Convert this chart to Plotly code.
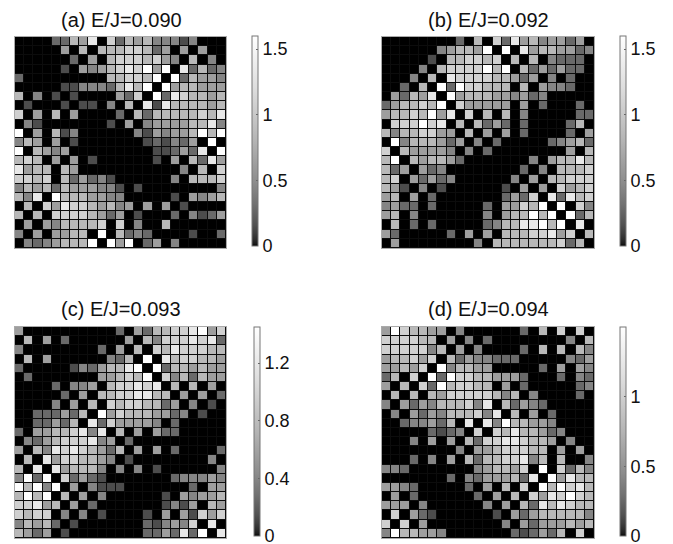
import plotly.graph_objects as go

# The page has an 8 px body margin, so figure coordinates are offset by it.
PAGE_W, PAGE_H, OFF = 673, 544, 8
W, H = PAGE_W - OFF, PAGE_H - OFF

rows_a = [
[0,0,0,0,3,3,6,5,8,0,7,3,6,5,6,4,4,4,2,4,0,0,0],
[0,0,0,0,0,5,0,6,0,6,6,6,7,7,6,3,5,0,5,0,5,0,0],
[0,0,0,0,0,0,3,0,5,0,6,7,7,7,6,7,5,4,0,6,0,4,0],
[0,0,0,0,0,2,0,5,4,5,6,7,8,7,9,5,9,0,8,3,6,3,4],
[3,0,0,0,0,0,0,0,0,0,6,6,7,7,6,9,0,9,3,6,5,5,4],
[0,0,0,0,0,2,2,4,4,4,3,6,8,6,9,0,9,5,6,6,5,5,5],
[6,0,4,0,2,0,2,0,0,0,0,5,3,7,0,9,3,8,7,6,6,5,6],
[0,2,0,0,0,2,0,2,2,0,4,0,6,0,8,2,8,6,6,6,6,5,6],
[7,0,5,0,6,0,5,0,0,0,0,3,0,6,3,6,6,6,6,6,7,6,8],
[0,4,2,0,0,0,0,0,0,0,2,0,5,0,4,5,5,5,5,6,6,8,4],
[9,0,5,0,6,2,4,0,0,0,0,0,0,4,2,5,4,5,5,6,9,6,9],
[4,6,5,0,5,0,2,0,0,0,0,0,0,0,2,3,2,4,3,5,0,9,0],
[9,0,6,5,4,5,0,0,0,0,0,0,0,0,0,2,2,3,5,3,8,0,9],
[6,7,6,0,5,0,5,0,2,0,0,0,0,0,0,2,0,5,0,6,3,8,5],
[8,5,6,6,0,6,5,0,0,0,0,0,0,0,0,0,0,0,4,0,6,0,7],
[7,7,6,7,0,6,3,5,3,4,2,0,0,0,0,0,0,4,0,6,6,6,7],
[4,6,5,6,3,6,5,5,5,4,4,2,0,2,0,0,0,0,0,0,0,0,4],
[6,4,8,0,9,6,6,6,5,5,4,4,0,0,0,0,0,2,0,5,4,5,6],
[0,6,0,7,5,8,7,7,6,5,6,4,5,0,5,0,5,0,2,0,0,0,0],
[6,0,6,0,7,7,7,7,6,5,3,5,0,2,0,0,0,3,0,4,2,3,5],
[0,5,0,5,4,6,6,6,6,7,0,7,0,4,0,0,6,0,0,0,0,0,0],
[4,0,5,0,5,5,6,6,0,9,0,6,3,4,3,0,0,0,0,2,0,0,3],
[0,4,3,4,5,6,6,6,9,0,9,5,9,0,3,5,0,4,0,0,0,0,0],
]
rows_b = [
[0,0,0,0,0,0,0,0,3,0,6,0,7,3,8,5,6,4,5,5,3,5,0],
[0,0,0,0,0,0,4,5,6,6,5,9,0,9,0,8,5,6,6,5,5,3,4],
[0,0,0,0,0,2,0,6,6,7,7,6,7,0,6,0,6,0,4,3,3,3,0],
[0,0,0,0,4,0,6,7,7,7,7,9,6,9,0,6,3,5,3,5,3,3,0],
[0,0,0,4,0,6,0,8,7,7,7,7,6,6,5,3,5,0,4,0,3,0,0],
[0,0,3,0,6,0,9,3,9,7,7,6,6,6,0,6,0,5,4,4,3,0,0],
[0,5,3,6,5,8,0,9,5,6,6,6,5,5,4,5,3,4,0,0,0,0,0],
[3,5,6,6,7,6,9,0,7,5,5,5,5,5,0,5,0,3,0,0,0,3,0],
[5,6,6,7,6,9,5,8,0,7,0,6,0,6,0,4,0,0,0,0,0,3,3],
[0,7,7,7,9,7,8,0,6,0,6,3,5,3,0,3,0,0,0,0,3,6,0],
[6,4,6,6,7,7,5,5,0,6,0,5,0,5,0,3,0,0,0,0,3,0,5],
[0,9,4,6,6,6,5,3,5,0,4,0,3,0,0,0,0,0,3,4,5,6,3],
[7,0,6,5,5,5,5,4,0,4,0,3,0,0,0,0,0,0,0,0,5,0,6],
[6,9,0,6,5,6,6,5,3,0,0,0,0,0,0,0,4,0,5,6,6,8,6],
[6,3,5,0,5,3,4,0,0,0,0,0,0,0,0,3,0,4,0,6,6,6,7],
[6,7,0,5,3,5,3,4,0,0,0,0,0,0,4,0,5,0,6,6,7,7,7],
[6,5,2,0,4,0,2,0,0,0,0,0,0,2,0,5,0,5,0,7,5,6,7],
[5,6,0,5,0,3,0,0,0,0,0,0,0,3,5,3,7,0,8,3,8,6,7],
[4,5,3,3,0,3,0,0,0,0,0,3,0,5,5,7,6,9,0,9,0,7,4],
[5,6,0,4,0,0,0,0,0,0,0,4,0,5,6,6,9,6,9,0,9,3,6],
[0,6,0,3,0,3,0,0,0,0,0,3,4,6,6,8,8,9,6,9,0,8,0],
[5,3,0,0,0,0,0,3,0,5,0,5,0,6,6,6,7,7,8,5,7,0,6],
[0,5,0,0,0,0,0,0,0,0,4,0,6,6,6,6,6,6,6,7,3,6,0],
]
rows_c = [
[5,0,0,0,0,0,0,0,0,0,0,3,0,5,3,6,6,7,7,8,9,5,7],
[0,6,0,5,0,3,0,0,0,0,0,0,5,0,6,4,7,7,7,8,7,8,3],
[4,0,0,0,0,0,0,0,0,3,0,5,0,6,0,7,6,8,7,7,7,6,6],
[0,6,0,5,0,0,0,0,0,0,4,3,6,0,9,0,8,6,7,7,6,6,5],
[3,0,0,0,0,0,2,4,3,5,6,6,8,9,0,9,3,6,6,5,6,5,5],
[0,3,0,0,0,0,0,0,0,5,5,6,7,6,9,0,7,4,6,3,6,5,5],
[0,0,0,0,3,0,4,4,5,0,6,7,7,8,7,8,0,6,0,6,0,5,0],
[0,0,0,0,0,3,0,5,0,6,6,7,7,8,8,6,6,0,5,0,5,0,3],
[0,0,0,0,4,0,5,0,6,0,7,6,7,7,6,6,3,5,0,4,0,2,0],
[0,0,3,3,3,5,3,6,0,9,5,7,6,6,6,5,5,3,4,0,2,0,0],
[0,0,3,3,5,3,6,0,8,3,7,5,5,5,5,4,0,3,0,0,0,0,0],
[3,0,5,5,6,6,7,8,4,8,0,6,0,5,0,5,3,3,0,0,0,0,0],
[0,4,3,5,6,7,7,7,8,4,5,0,3,0,0,0,0,0,0,0,0,0,0],
[5,0,6,4,8,7,8,7,6,5,3,6,0,5,0,5,0,3,0,0,0,0,3],
[0,6,0,8,5,7,7,6,6,5,4,0,2,0,0,0,0,0,0,0,0,4,0],
[6,0,8,0,8,5,6,6,6,4,0,4,0,4,0,2,0,0,0,0,0,0,4],
[4,9,3,9,0,7,3,5,3,2,0,0,0,0,0,0,0,3,4,4,4,5,4],
[9,6,9,4,9,0,5,0,4,2,2,2,0,0,0,0,0,0,0,3,0,5,5],
[6,9,6,9,0,6,0,5,0,4,0,0,0,0,0,0,2,0,5,4,5,5,6],
[7,7,8,5,6,0,5,0,3,0,0,0,0,0,0,0,2,4,2,5,0,6,5],
[7,6,7,7,0,4,0,4,0,2,0,0,0,0,2,0,5,0,5,2,7,5,7],
[4,6,5,6,3,0,2,0,0,0,0,0,0,0,3,2,4,5,4,7,0,8,0],
[6,5,3,5,0,2,0,0,0,0,0,0,0,0,3,3,5,3,8,3,9,0,8],
]
rows_d = [
[5,9,7,6,6,5,5,0,4,0,0,0,0,0,0,3,0,6,0,7,0,7,0],
[7,7,7,7,6,6,0,5,0,4,0,3,0,0,0,0,0,0,0,0,4,0,6],
[7,7,7,7,7,4,6,0,5,0,4,0,0,0,0,3,0,6,0,6,0,6,4],
[5,6,6,7,5,7,0,6,3,5,4,4,3,3,3,0,0,0,0,0,4,3,5],
[5,5,6,5,7,0,9,4,6,6,5,5,0,0,0,0,0,3,0,5,0,5,4],
[3,6,0,7,0,9,3,9,7,7,6,6,5,5,5,3,0,0,0,3,0,4,3],
[5,0,6,0,7,3,9,6,7,7,6,6,0,5,0,3,0,0,0,0,0,3,4],
[0,6,0,6,0,6,5,7,7,7,7,7,6,4,6,0,4,0,0,0,0,3,0],
[4,0,5,3,5,4,6,6,6,7,4,8,0,6,3,5,4,3,0,0,0,0,0],
[0,4,0,5,3,5,4,6,6,6,7,4,8,0,6,0,5,0,3,0,0,0,0],
[0,0,3,4,4,5,3,6,0,8,0,8,4,9,6,6,5,5,4,0,0,0,0],
[0,0,0,0,0,3,2,3,4,0,7,0,7,6,8,6,6,5,3,4,0,0,0],
[0,0,0,4,0,5,0,5,0,6,3,7,7,8,8,7,6,6,5,0,4,0,0],
[0,0,0,0,0,0,0,0,4,0,5,5,6,7,7,7,6,6,0,5,0,5,0],
[0,0,0,3,0,4,0,5,0,6,3,6,6,7,7,8,4,6,0,6,0,0,4],
[4,4,3,0,0,0,0,0,0,0,4,5,6,6,5,7,0,9,0,7,3,6,4],
[0,0,0,0,0,0,0,3,0,4,3,5,5,5,6,3,8,0,9,5,8,6,6],
[5,5,4,3,0,0,0,0,0,3,0,5,0,6,0,7,0,9,6,9,7,8,6],
[0,5,0,3,0,0,0,0,0,0,3,0,5,0,6,0,7,5,8,7,9,7,6],
[5,5,5,0,4,0,0,0,0,0,0,4,0,5,0,6,3,8,6,8,7,6,6],
[0,7,0,5,3,2,0,0,0,0,0,0,2,0,5,3,5,6,6,6,6,6,4],
[7,0,7,0,5,0,0,0,0,0,0,0,0,4,0,5,3,5,5,5,6,5,6],
[4,9,6,6,5,5,4,0,0,0,0,0,0,0,3,2,3,5,3,6,0,7,0],
]

titles = ["(a) E/J=0.090", "(b) E/J=0.092", "(c) E/J=0.093", "(d) E/J=0.094"]
zmaxes = [1.6, 1.6, 1.45, 1.5]
tickvals = [[0, 0.5, 1, 1.5], [0, 0.5, 1, 1.5], [0, 0.4, 0.8, 1.2], [0, 0.5, 1]]
ticktext = [["0", "0.5", "1", "1.5"], ["0", "0.5", "1", "1.5"],
            ["0", "0.4", "0.8", "1.2"], ["0", "0.5", "1"]]
panels = [rows_a, rows_b, rows_c, rows_d]

# page-pixel layout: plot box (x0, x1, y0, y1), colorbar (x0, x1, y0, y1), title centre
boxes = [(15, 226, 37, 248), (382, 594, 37, 248), (15, 226, 327, 538), (382, 594, 327, 538)]
bars = [(252, 258, 36, 246), (620, 626, 36, 246), (254, 260, 327, 536), (620, 626, 327, 536)]
title_xy = [(121, 20), (488, 20), (121, 309), (488, 309)]

# black-to-white ramp with a square-root shape, as on the reference colour bars
ramp_t = [0, 0.01, 0.03, 0.06, 0.1, 0.2, 0.3, 0.5, 0.75, 1]
GRAY = []
for t in ramp_t:
    g = round(255 * t ** 0.5)
    GRAY.append([t, f"rgb({g},{g},{g})"])

TXT = "#111111"
FONT = "Liberation Sans, Arial, sans-serif"

fig = go.Figure()
ann = []
for i, rows in enumerate(panels):
    n = "" if i == 0 else str(i + 1)
    x0, x1, y0, y1 = [v - OFF for v in boxes[i]]
    bx0, bx1, by0, by1 = [v - OFF for v in bars[i]]
    zmax = zmaxes[i]
    z = [[(v / 9) ** 1.6 * zmax for v in r] for r in rows]
    fig.add_trace(go.Heatmap(
        z=z, xaxis="x" + n, yaxis="y" + n, zmin=0, zmax=zmax,
        colorscale=GRAY, xgap=1, ygap=1, hoverinfo="skip",
        colorbar=dict(
            x=bx0 / W, xanchor="left", xpad=0,
            y=1 - by1 / H, yanchor="bottom", ypad=0,
            len=(by1 - by0) / H, lenmode="fraction",
            thickness=bx1 - bx0, thicknessmode="pixels",
            tickmode="array", tickvals=tickvals[i], ticktext=ticktext[i],
            ticks="inside", ticklen=2, tickwidth=1, tickcolor="#666666",
            ticklabeloverflow="allow",
            outlinewidth=1, outlinecolor="#777777", borderwidth=0,
            tickfont=dict(family=FONT, size=18, color=TXT),
        ),
    ))
    common = dict(showticklabels=False, ticks="", showgrid=False, zeroline=False,
                  showline=True, linecolor="#aaaaaa", linewidth=1, mirror=True)
    fig.update_layout(**{
        "xaxis" + n: dict(domain=[x0 / W, x1 / W], anchor="y" + n, range=[-0.5, 22.5], **common),
        "yaxis" + n: dict(domain=[1 - y1 / H, 1 - y0 / H], anchor="x" + n, range=[22.5, -0.5], **common),
    })
    tx, ty = title_xy[i]
    ann.append(dict(text=titles[i], x=(tx - OFF) / W, y=1 - (ty - OFF) / H,
                    xref="paper", yref="paper", showarrow=False, yanchor="middle",
                    xanchor="center", font=dict(family=FONT, size=20, color=TXT)))

fig.update_layout(width=W, height=H, margin=dict(l=0, r=0, t=0, b=0, autoexpand=False),
                  paper_bgcolor="white", plot_bgcolor="#0c0c0c",
                  annotations=ann, showlegend=False)
fig.write_html("out.html")
